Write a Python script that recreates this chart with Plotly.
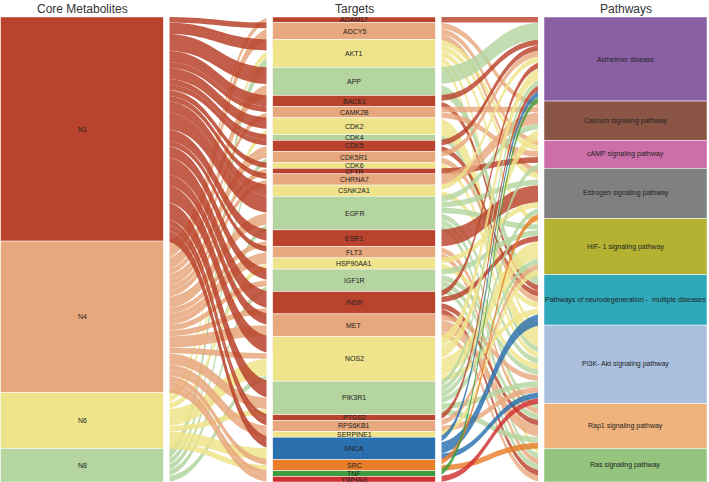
import plotly.graph_objects as go

# ---------------- data ----------------
metabolites = ["N1", "N4", "N6", "N8"]
targets = ["ADAM17", "ADCY5", "AKT1", "APP", "BACE1", "CAMK2B", "CDK2", "CDK4", "CDK5",
           "CDK5R1", "CDK6", "CFTR", "CHRNA7", "CSNK2A1", "EGFR", "ESR1", "FLT3",
           "HSP90AA1", "IGF1R", "INSR", "MET", "NOS2", "PIK3R1", "PTGS2", "RPS6KB1",
           "SERPINE1", "SNCA", "SRC", "TNF", "YWHAG"]
pathways = ["Alzheimer disease", "Calcium signaling pathway", "cAMP signaling pathway",
            "Estrogen signaling pathway", "HIF- 1 signaling pathway",
            "Pathways of neurodegeneration -  multiple diseases",
            "PI3K- Akt signaling pathway", "Rap1 signaling pathway", "Ras signaling pathway"]
headers = ["Core Metabolites", "Targets", "Pathways"]

# metabolite -> target links
mt_source = ["N4", "N1", "N4", "N1", "N6", "N8", "N1", "N4", "N1", "N1", "N4", "N1", "N6",
             "N1", "N1", "N4", "N4", "N8", "N1", "N4", "N1", "N4", "N1", "N1", "N4", "N8",
             "N1", "N4", "N1", "N4", "N4", "N6", "N1", "N4", "N8", "N1", "N4", "N1", "N4",
             "N1", "N4", "N6", "N8", "N1", "N4", "N6", "N1", "N1", "N4", "N4", "N1", "N6",
             "N4", "N6", "N4", "N4"]
mt_target = ["ADAM17", "ADCY5", "ADCY5", "AKT1", "AKT1", "AKT1", "APP", "APP", "BACE1",
             "CAMK2B", "CAMK2B", "CDK2", "CDK2", "CDK4", "CDK5", "CDK5", "CDK5R1", "CDK5R1",
             "CDK6", "CFTR", "CHRNA7", "CHRNA7", "CSNK2A1", "EGFR", "EGFR", "EGFR",
             "ESR1", "ESR1", "FLT3", "FLT3", "HSP90AA1", "HSP90AA1", "IGF1R", "IGF1R", "IGF1R",
             "INSR", "INSR", "MET", "MET", "NOS2", "NOS2", "NOS2", "NOS2", "PIK3R1", "PIK3R1",
             "PIK3R1", "PTGS2", "RPS6KB1", "RPS6KB1", "SERPINE1", "SNCA", "SNCA", "SRC", "SRC",
             "TNF", "YWHAG"]
mt_value = [1, 1, 2, 2, 1, 2, 3, 2, 2, 1, 1, 2, 1, 1, 1, 1, 1, 1, 1, 1, 1, 1, 2, 3, 2, 1,
            2, 1, 1, 1, 1, 1, 2, 1, 1, 3, 1, 2, 2, 3, 1, 3, 1, 3, 2, 1, 1, 1, 1, 1, 2, 2,
            1, 1, 1, 1]

# target -> pathway links
AD, CA, CM, ES, HI, ND, PI, RP, RS = pathways
tp_source = ["ADAM17", "ADCY5", "ADCY5", "ADCY5", "AKT1", "AKT1", "AKT1", "AKT1", "AKT1",
             "APP", "APP", "BACE1", "BACE1", "CAMK2B", "CAMK2B", "CDK2", "CDK4", "CDK5", "CDK5",
             "CDK5R1", "CDK5R1", "CDK6", "CFTR", "CHRNA7", "CSNK2A1", "CSNK2A1",
             "EGFR", "EGFR", "EGFR", "EGFR", "EGFR", "EGFR", "ESR1", "FLT3", "FLT3",
             "HSP90AA1", "HSP90AA1", "IGF1R", "IGF1R", "IGF1R", "IGF1R",
             "INSR", "INSR", "INSR", "INSR", "MET", "MET", "MET",
             "NOS2", "NOS2", "NOS2", "NOS2",
             "PIK3R1", "PIK3R1", "PIK3R1", "PIK3R1", "PIK3R1", "PIK3R1",
             "PTGS2", "RPS6KB1", "RPS6KB1", "SERPINE1", "SNCA", "SNCA", "SNCA",
             "SRC", "SRC", "TNF", "YWHAG"]
tp_target = [AD, CA, CM, ES, CM, ES, HI, PI, RS,
             AD, ND, AD, ND, CA, CM, PI, PI, AD, ND,
             AD, ND, PI, CM, CA, AD, ND,
             CA, ES, HI, PI, RP, RS, ES, RP, RS,
             ES, PI, HI, PI, RP, RS,
             AD, HI, RP, RS, PI, RP, RS,
             AD, CA, HI, ND,
             AD, CM, ES, HI, PI, RP,
             AD, HI, PI, HI, AD, ND, PI,
             ES, RP, AD, PI]
tp_value = [1, 1, 1, 1, 1, 1, 1, 1, 1,
            3, 2, 1, 1, 1, 1, 3, 1, 1, 1,
            1, 1, 1, 1, 2, 1, 1,
            1, 1, 1, 1, 1, 1, 3, 1, 1,
            1, 1, 1, 1, 1, 1,
            1, 1, 1, 1, 1, 2, 1,
            2, 2, 3, 1,
            1, 1, 1, 1, 1, 1,
            1, 1, 1, 1, 1, 2, 1,
            1, 1, 1, 1]

# ---------------- styles ----------------
RED, SAL, YEL, GRN = "#b9432c", "#e8a87e", "#efe48c", "#b5d5a0"
met_colors = [RED, SAL, YEL, GRN]
target_colors = [RED, SAL, YEL, GRN, RED, SAL, YEL, GRN, RED, SAL, YEL, RED, SAL, YEL,
                 GRN, RED, SAL, YEL, GRN, RED, SAL, YEL, GRN, RED, SAL, YEL,
                 "#2a6fae", "#e97d2a", "#3d9c3c", "#cf3030"]
pathway_colors = ["#8a60a5", "#8b5546", "#cc6fa8", "#808080", "#b3b232", "#2fa9b9",
                  "#abc0de", "#efb27c", "#95c47f"]


def rgba(hexc, a):
    h = hexc.lstrip("#")
    return "rgba(%d,%d,%d,%.2f)" % (int(h[0:2], 16), int(h[2:4], 16), int(h[4:6], 16), a)


labels = metabolites + targets + pathways
colors = met_colors + target_colors + pathway_colors
idx = {n: i for i, n in enumerate(labels)}

W, H = 709, 482
dom_top = 465 / 482
col_centers_px = [82, 354, 625.5]
col_x = [c / W for c in col_centers_px]
thickness = 163
gap_px = 6  # white gap between node blocks and link ribbons

# node totals from link values
tot = [0.0] * len(labels)
for s, v in zip(mt_source, mt_value):
    tot[idx[s]] += v
for t, v in zip(mt_target, mt_value):
    tot[idx[t]] += v
for t, v in zip(tp_target, tp_value):
    tot[idx[t]] += v
grand = sum(mt_value)

node_x, node_y = [], []
ann = []
for col, group in enumerate([metabolites, targets, pathways]):
    cum = 0.0
    for name in group:
        v = tot[idx[name]]
        yc = (cum + v / 2) / grand
        cum += v
        node_x.append(col_x[col])
        node_y.append(yc)
        ann.append(dict(x=col_x[col], y=dom_top * (1 - yc), xref="paper", yref="paper",
                        text=name, showarrow=False, xanchor="center", yanchor="middle",
                        font=dict(family="Liberation Sans, Arial", size=7, color="#222")))

for col, htxt in enumerate(headers):
    ann.append(dict(x=col_x[col], y=1 - 8.5 / H, xref="paper", yref="paper", text=htxt,
                    showarrow=False, xanchor="center", yanchor="middle",
                    font=dict(family="Liberation Sans, Arial", size=12, color="#333")))

# white separators between nodes and ribbons
shapes = []
for i, c in enumerate(col_centers_px):
    left = c - thickness / 2
    right = c + thickness / 2
    if i > 0:
        shapes.append(dict(type="rect", xref="paper", yref="paper", layer="above",
                           x0=(left - gap_px) / W, x1=left / W, y0=0, y1=dom_top + 0.002,
                           fillcolor="white", line=dict(width=0)))
    if i < 2:
        shapes.append(dict(type="rect", xref="paper", yref="paper", layer="above",
                           x0=right / W, x1=(right + gap_px) / W, y0=0, y1=dom_top + 0.002,
                           fillcolor="white", line=dict(width=0)))

src = [idx[s] for s in mt_source] + [idx[s] for s in tp_source]
tgt = [idx[t] for t in mt_target] + [idx[t] for t in tp_target]
val = list(mt_value) + list(tp_value)
lcol = [rgba(colors[idx[s]], 0.86) for s in mt_source] + \
       [rgba(colors[idx[s]], 0.82) for s in tp_source]

fig = go.Figure(go.Sankey(
    arrangement="fixed",
    domain=dict(x=[0, 1], y=[0, dom_top]),
    textfont=dict(color="rgba(0,0,0,0)", size=1),
    node=dict(label=labels, color=colors, pad=0, thickness=thickness,
              x=node_x, y=node_y, line=dict(color="white", width=0.5)),
    link=dict(source=src, target=tgt, value=val, color=lcol),
))
fig.update_layout(width=W, height=H, margin=dict(l=0, r=0, t=0, b=0),
                  paper_bgcolor="white", annotations=ann, shapes=shapes)
fig.write_html("out.html")
